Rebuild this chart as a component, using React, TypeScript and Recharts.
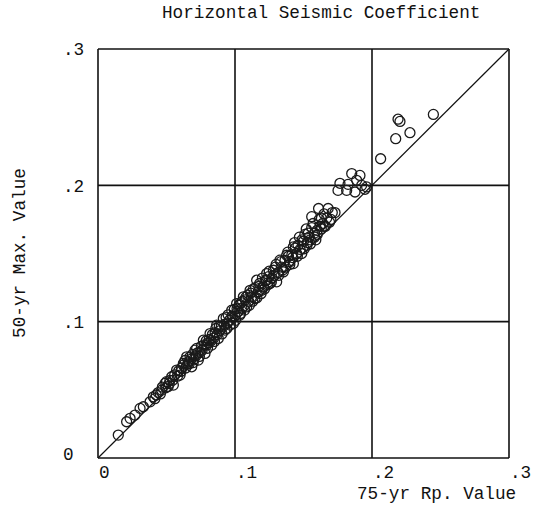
import React from "react";
import { ScatterChart, Scatter, XAxis, YAxis, CartesianGrid, ReferenceLine } from "recharts";

// 75-yr return-period values (x)
const rpValues = [
  0.0148, 0.0209, 0.0234, 0.027, 0.0307, 0.0331, 0.038, 0.0404, 0.0425, 0.044,
  0.0465, 0.047, 0.0489, 0.05, 0.0512, 0.0525, 0.0538, 0.055, 0.056, 0.0574,
  0.059, 0.0599, 0.061, 0.0623, 0.0623, 0.0635, 0.0647, 0.0655, 0.066, 0.0672,
  0.0684, 0.069, 0.07, 0.0708, 0.0715, 0.072, 0.0732, 0.0745, 0.0755, 0.0769,
  0.0781, 0.079, 0.0795, 0.0805, 0.0818, 0.083, 0.0835, 0.0845, 0.0855, 0.0866,
  0.0878, 0.089, 0.09, 0.0915, 0.0927, 0.0935, 0.0945, 0.096, 0.0976, 0.0988,
  0.0995, 0.1, 0.1012, 0.102, 0.1036, 0.1045, 0.105, 0.1061, 0.1075, 0.1085,
  0.1095, 0.11, 0.111, 0.112, 0.1135, 0.1146, 0.1158, 0.117, 0.118, 0.1195,
  0.1207, 0.122, 0.1231, 0.1231, 0.1245, 0.1255, 0.127, 0.128, 0.1295, 0.1304,
  0.1315, 0.1328, 0.134, 0.1353, 0.1365, 0.1377, 0.139, 0.14, 0.1415, 0.1426,
  0.1426, 0.144, 0.145, 0.146, 0.147, 0.1487, 0.15, 0.151, 0.152, 0.153,
  0.154, 0.155, 0.156, 0.157, 0.158, 0.159, 0.16, 0.161, 0.162, 0.163,
  0.165, 0.165, 0.168, 0.169, 0.173,
  0.0415, 0.0455, 0.0495, 0.052, 0.0545, 0.058, 0.0605, 0.064, 0.0665, 0.068,
  0.0695, 0.0725, 0.074, 0.076, 0.0775, 0.08, 0.0812, 0.0825, 0.085, 0.086,
  0.087, 0.0885, 0.0905, 0.092, 0.094, 0.095, 0.0965, 0.098, 0.1005, 0.1015,
  0.103, 0.104, 0.1055, 0.107, 0.108, 0.1105, 0.1115, 0.113, 0.115, 0.116,
  0.1175, 0.119, 0.12, 0.1215, 0.124, 0.125, 0.1265, 0.1285, 0.13, 0.132,
  0.1335, 0.135, 0.137, 0.1385, 0.14, 0.142, 0.1435, 0.1455, 0.1475, 0.149,
  0.1505, 0.1525, 0.1535, 0.155, 0.156, 0.158, 0.16, 0.1615, 0.163, 0.164,
  0.166, 0.167, 0.17, 0.171,
  0.1752, 0.1766, 0.1815, 0.1825, 0.1852, 0.1876, 0.1888, 0.1912, 0.1925, 0.1949, 0.1961,
  0.2063, 0.2173, 0.219, 0.2204, 0.2277, 0.2448,
];

// 50-yr maximum values (y)
const maxValues = [
  0.0168, 0.0266, 0.0291, 0.0315, 0.0364, 0.0376, 0.0412, 0.0449, 0.0462, 0.048,
  0.0498, 0.052, 0.0547, 0.056, 0.0525, 0.057, 0.0596, 0.0535, 0.061, 0.0645,
  0.064, 0.0608, 0.066, 0.0681, 0.0694, 0.0715, 0.0742, 0.069, 0.0705, 0.0742,
  0.0669, 0.076, 0.0725, 0.0791, 0.075, 0.0804, 0.0718, 0.0775, 0.082, 0.0864,
  0.0767, 0.086, 0.083, 0.0845, 0.0913, 0.0828, 0.0905, 0.088, 0.092, 0.0974,
  0.0877, 0.0935, 0.0965, 0.1023, 0.0938, 0.103, 0.099, 0.101, 0.1084, 0.0987,
  0.109, 0.104, 0.1133, 0.1075, 0.1048, 0.114, 0.11, 0.1182, 0.116, 0.1108,
  0.1195, 0.115, 0.123, 0.118, 0.124, 0.117, 0.1304, 0.122, 0.128, 0.123,
  0.1255, 0.13, 0.1353, 0.1304, 0.133, 0.128, 0.132, 0.1377, 0.14, 0.1292,
  0.136, 0.1451, 0.14, 0.1365, 0.145, 0.1487, 0.148, 0.144, 0.149, 0.1548,
  0.1426, 0.154, 0.15, 0.156, 0.162, 0.15, 0.159, 0.164, 0.168, 0.158,
  0.162, 0.157, 0.177, 0.172, 0.165, 0.16, 0.167, 0.183, 0.17, 0.176,
  0.17, 0.179, 0.183, 0.173, 0.18,
  0.0435, 0.047, 0.0515, 0.0545, 0.057, 0.06, 0.0635, 0.066, 0.069, 0.0725,
  0.07, 0.077, 0.0745, 0.079, 0.083, 0.0805, 0.087, 0.086, 0.0855, 0.095,
  0.0905, 0.0965, 0.091, 0.098, 0.095, 0.105, 0.0975, 0.104, 0.101, 0.1095,
  0.112, 0.106, 0.115, 0.1085, 0.118, 0.112, 0.121, 0.115, 0.125, 0.1175,
  0.126, 0.1205, 0.132, 0.124, 0.127, 0.137, 0.129, 0.134, 0.142, 0.134,
  0.144, 0.138, 0.14, 0.151, 0.142, 0.147, 0.158, 0.148, 0.153, 0.16,
  0.1535, 0.156, 0.165, 0.16, 0.169, 0.162, 0.164, 0.175, 0.168, 0.172,
  0.17, 0.176, 0.175, 0.18,
  0.1963, 0.2015, 0.1963, 0.2007, 0.2086, 0.1951, 0.2037, 0.2073, 0.2, 0.1971, 0.1988,
  0.2195, 0.2342, 0.2485, 0.2469, 0.2386, 0.252,
];

const axisTicks = [0, 0.1, 0.2, 0.3];
const axisTickLabels = ["0", ".1", ".2", ".3"];

const titleText = "Horizontal Seismic Coefficient";
const xTitle = "75-yr Rp. Value";
const yTitle = "50-yr Max. Value";

const data = rpValues.map((x, i) => ({ x, y: maxValues[i] }));

const FONT = "'Liberation Mono', 'Courier New', monospace";
const FS = 17.7;

const labelFor = (v: number) => {
  const i = axisTicks.findIndex((t) => Math.abs(t - v) < 1e-9);
  return i >= 0 ? axisTickLabels[i] : String(v);
};

const XTick = (props: any) => {
  const { x, y, payload } = props;
  return (
    <text x={x + 1} y={y + 20} textAnchor="start" fontFamily={FONT} fontSize={FS} fill="#111">
      {labelFor(payload.value)}
    </text>
  );
};

const YTick = (props: any) => {
  const { x, y, payload } = props;
  return (
    <text x={x - 35} y={y - (payload.value === 0 ? 4 : 0)} dy="0.35em" textAnchor="start" fontFamily={FONT} fontSize={FS} fill="#111">
      {labelFor(payload.value)}
    </text>
  );
};

const Circle = (props: any) => {
  const { cx, cy } = props;
  if (cx == null || cy == null) return null;
  return <circle cx={cx} cy={cy} r={5} fill="none" stroke="#1a1a1a" strokeWidth={1.3} />;
};

export default function App() {
  return (
    <div style={{ position: "absolute", left: 0, top: 0, width: 541, height: 506, background: "#fff" }}>
      <ScatterChart
        width={541}
        height={506}
        margin={{ top: 49, right: 32, bottom: 18, left: 58 }}
      >
        <CartesianGrid stroke="#111" strokeWidth={1.6} />
        <XAxis
          type="number"
          dataKey="x"
          domain={[0, 0.3]}
          ticks={axisTicks}
          interval={0}
          axisLine={false}
          tickLine={false}
          tickSize={0}
          tickMargin={0}
          height={30}
          tick={<XTick />}
          allowDataOverflow
        />
        <YAxis
          type="number"
          dataKey="y"
          domain={[0, 0.3]}
          ticks={axisTicks}
          interval={0}
          axisLine={false}
          tickLine={false}
          tickSize={0}
          tickMargin={0}
          width={40}
          tick={<YTick />}
          allowDataOverflow
        />
        <ReferenceLine
          segment={[{ x: 0, y: 0 }, { x: 0.3, y: 0.3 }]}
          stroke="#111"
          strokeWidth={1.2}
          ifOverflow="visible"
        />
        <Scatter data={data} shape={<Circle />} isAnimationActive={false} />
      </ScatterChart>
      <svg
        width={541}
        height={506}
        style={{ position: "absolute", left: 0, top: 0, pointerEvents: "none" }}
      >
        <text x={162} y={18} fontFamily={FONT} fontSize={FS} fill="#111">
          {titleText}
        </text>
        <text x={357} y={499} fontFamily={FONT} fontSize={FS} fill="#111">
          {xTitle}
        </text>
        <text
          transform="translate(25,253) rotate(-90)"
          textAnchor="middle"
          fontFamily={FONT}
          fontSize={FS}
          fill="#111"
        >
          {yTitle}
        </text>
      </svg>
    </div>
  );
}
